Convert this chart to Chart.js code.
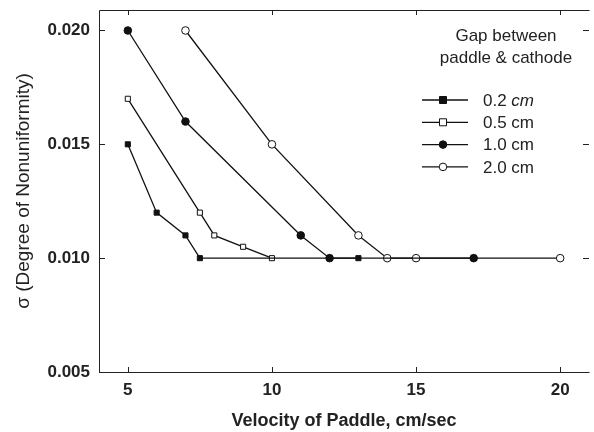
<!DOCTYPE html>
<html>
<head>
<meta charset="utf-8">
<script src="https://cdn.jsdelivr.net/npm/chart.js@4.4.1/dist/chart.umd.min.js"></script>
<style>
  html, body { margin: 0; padding: 0; background: #fff; }
  #wrap { width: 594px; height: 432px; }
</style>
</head>
<body>
<div id="wrap"><canvas id="grafico"></canvas></div>
<script>
// datos
const xTicks = [5, 10, 15, 20];
const yTicks = [0.005, 0.010, 0.015, 0.020];

const gap02x = [5, 6, 7, 7.5, 13];
const gap02y = [0.015, 0.012, 0.011, 0.010, 0.010];

const gap05x = [5, 7.5, 8, 9, 10];
const gap05y = [0.017, 0.012, 0.011, 0.0105, 0.010];

const gap10x = [5, 7, 11, 12, 17];
const gap10y = [0.020, 0.016, 0.011, 0.010, 0.010];

const gap20x = [7, 10, 13, 14, 15, 20];
const gap20y = [0.020, 0.015, 0.011, 0.010, 0.010, 0.010];

const leyendaTitulo = ['Gap between', 'paddle & cathode'];
const leyendaTextos = ['0.2 cm', '0.5 cm', '1.0 cm', '2.0 cm'];

const FONT = '"Liberation Sans", Arial, sans-serif';

function puntos(xs, ys) {
    return xs.map((x, i) => ({x: x, y: ys[i]}));
}

function serie(label, xs, ys, estilo, relleno) {
    return {
        label: label,
        data: puntos(xs, ys),
        borderColor: '#111',
        borderWidth: 1.3,
        pointStyle: estilo,
        pointRadius: estilo === 'rect' ? 3.6 : 3.8,
        pointBorderWidth: 1,
        pointBorderColor: '#111',
        pointBackgroundColor: relleno ? '#111' : '#fff',
        tension: 0,
        fill: false
    };
}

const series = [
    serie(leyendaTextos[0], gap02x, gap02y, 'rect', true),
    serie(leyendaTextos[1], gap05x, gap05y, 'rect', false),
    serie(leyendaTextos[2], gap10x, gap10y, 'circle', true),
    serie(leyendaTextos[3], gap20x, gap20y, 'circle', false)
];

// marco, marcas hacia adentro y leyenda
const marcoPlugin = {
    id: 'marco',
    afterDraw(chart) {
        const ctx = chart.ctx;
        const a = chart.chartArea;
        const xs = chart.scales.x;
        const ys = chart.scales.y;
        ctx.save();
        ctx.strokeStyle = '#222';
        ctx.lineWidth = 1;
        ctx.beginPath();
        ctx.moveTo(a.right + 0.5, a.top + 0.5);
        ctx.lineTo(a.left + 0.5, a.top + 0.5);
        ctx.lineTo(a.left + 0.5, a.bottom + 0.5);
        ctx.lineTo(a.right + 0.5, a.bottom + 0.5);
        ctx.stroke();

        ctx.beginPath();
        xTicks.forEach(v => {
            const px = Math.round(xs.getPixelForValue(v)) + 0.5;
            ctx.moveTo(px, a.bottom);
            ctx.lineTo(px, a.bottom - 5);
            ctx.moveTo(px, a.top);
            ctx.lineTo(px, a.top + 5);
        });
        yTicks.forEach(v => {
            const py = Math.round(ys.getPixelForValue(v)) + 0.5;
            ctx.moveTo(a.left, py);
            ctx.lineTo(a.left + 6, py);
            ctx.moveTo(a.right, py);
            ctx.lineTo(a.right - 6, py);
        });
        ctx.stroke();

        // leyenda
        ctx.fillStyle = '#222';
        ctx.font = '17px ' + FONT;
        ctx.textAlign = 'center';
        ctx.textBaseline = 'middle';
        ctx.fillText(leyendaTitulo[0], 506, 36);
        ctx.fillText(leyendaTitulo[1], 506, 58);

        series.forEach((ds, i) => {
            const y = 100 + i * 22.3;
            ctx.strokeStyle = '#111';
            ctx.lineWidth = 1.3;
            ctx.beginPath();
            ctx.moveTo(422, y);
            ctx.lineTo(468, y);
            ctx.stroke();
            ctx.fillStyle = ds.pointBackgroundColor;
            ctx.strokeStyle = '#111';
            ctx.lineWidth = 1;
            ctx.beginPath();
            if (ds.pointStyle === 'rect') {
                ctx.rect(443 - 3.5, y - 3.5, 7, 7);
            } else {
                ctx.arc(443, y, 3.8, 0, Math.PI * 2);
            }
            ctx.fill();
            ctx.stroke();
            ctx.fillStyle = '#222';
            ctx.textAlign = 'left';
            ctx.font = '17px ' + FONT;
            const partes = ds.label.split(' ');
            ctx.fillText(partes[0] + ' ', 483, y + 1);
            const w = ctx.measureText(partes[0] + ' ').width;
            if (i === 0) ctx.font = 'italic 17px ' + FONT;
            ctx.fillText(partes[1], 483 + w, y + 1);
        });
        ctx.restore();
    }
};

new Chart(document.getElementById('grafico'), {
    type: 'line',
    data: { datasets: series },
    options: {
        responsive: true,
        maintainAspectRatio: false,
        animation: false,
        layout: { padding: { top: 10, right: 1, left: 0, bottom: 0 } },
        plugins: {
            legend: { display: false },
            tooltip: { enabled: false }
        },
        scales: {
            x: {
                type: 'linear',
                min: 4,
                max: 21,
                afterBuildTicks: s => { s.ticks = xTicks.map(v => ({value: v})); },
                afterFit: s => { s.height = 60; s.paddingRight = 0; },
                grid: { display: false, drawTicks: false },
                border: { display: false },
                ticks: {
                    color: '#222',
                    padding: 8,
                    font: { family: FONT, size: 17, weight: 'bold' }
                },
                title: {
                    display: true,
                    text: 'Velocity of Paddle, cm/sec',
                    color: '#222',
                    padding: { top: 8, bottom: 0 },
                    font: { family: FONT, size: 18, weight: 'bold' }
                }
            },
            y: {
                type: 'linear',
                min: 0.005,
                max: 0.0209,
                afterBuildTicks: s => { s.ticks = yTicks.map(v => ({value: v})); },
                afterFit: s => { s.width = 99; s.paddingTop = 0; s.paddingBottom = 0; },
                grid: { display: false, drawTicks: false },
                border: { display: false },
                ticks: {
                    color: '#222',
                    padding: 9,
                    callback: v => v.toFixed(3),
                    font: { family: FONT, size: 17, weight: 'bold' }
                },
                title: {
                    display: true,
                    text: 'σ (Degree of Nonuniformity)',
                    color: '#222',
                    padding: { top: 12, bottom: 4 },
                    font: { family: FONT, size: 19 }
                }
            }
        }
    },
    plugins: [marcoPlugin]
});
</script>
</body>
</html>
